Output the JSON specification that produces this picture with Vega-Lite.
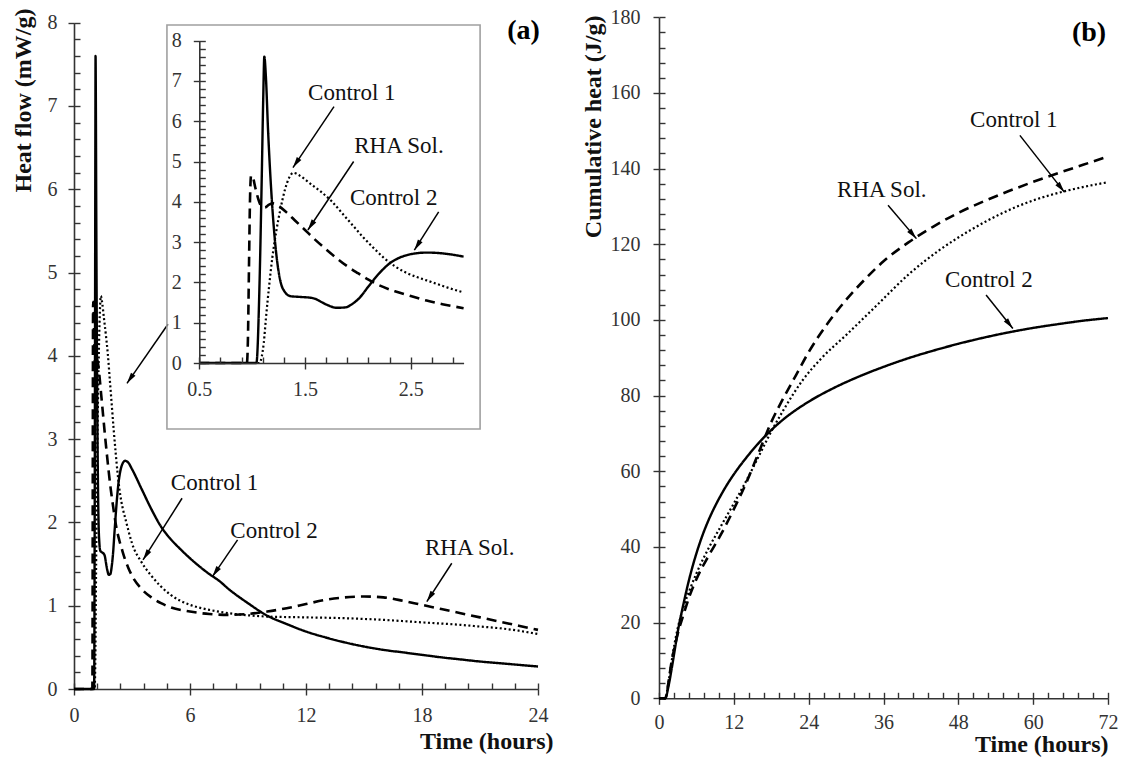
{
"$schema": "https://vega.github.io/schema/vega-lite/v6.json",
"width": 1121, "height": 758,
"autosize": {"type": "none"},
"padding": 0,
"background": "white",
"config": {
 "view": {"stroke": null},
 "font": "Liberation Serif",
 "axis": {"grid": false, "labelFont": "Liberation Serif", "labelFontSize": 20, "labelColor": "#333333", "domainColor": "#333333", "domainWidth": 1.6, "tickColor": "#333333", "tickWidth": 1.4, "titleFont": "Liberation Serif", "titleFontSize": 24, "titleFontWeight": "bold", "titleColor": "#111111", "labelFlush": false, "labelOverlap": false}
},
"datasets": {
 "heatflow": [
  {"series":"Control 2","t":0,"q":0},{"series":"Control 2","t":0.5,"q":0},{"series":"Control 2","t":1.0,"q":0},{"series":"Control 2","t":1.04,"q":0},{"series":"Control 2","t":1.07,"q":2.0},{"series":"Control 2","t":1.09,"q":4.5},{"series":"Control 2","t":1.105,"q":6.6},{"series":"Control 2","t":1.115,"q":7.6},{"series":"Control 2","t":1.13,"q":7.1},{"series":"Control 2","t":1.15,"q":5.8},{"series":"Control 2","t":1.18,"q":4.3},{"series":"Control 2","t":1.21,"q":3.2},{"series":"Control 2","t":1.24,"q":2.45},{"series":"Control 2","t":1.27,"q":2.0},{"series":"Control 2","t":1.31,"q":1.76},{"series":"Control 2","t":1.36,"q":1.66},{"series":"Control 2","t":1.45,"q":1.64},{"series":"Control 2","t":1.55,"q":1.62},{"series":"Control 2","t":1.6,"q":1.59},{"series":"Control 2","t":1.65,"q":1.52},{"series":"Control 2","t":1.72,"q":1.43},{"series":"Control 2","t":1.8,"q":1.37},{"series":"Control 2","t":1.88,"q":1.38},{"series":"Control 2","t":1.95,"q":1.47},{"series":"Control 2","t":2.02,"q":1.63},{"series":"Control 2","t":2.1,"q":1.9},{"series":"Control 2","t":2.2,"q":2.22},{"series":"Control 2","t":2.3,"q":2.47},{"series":"Control 2","t":2.4,"q":2.62},{"series":"Control 2","t":2.5,"q":2.7},{"series":"Control 2","t":2.65,"q":2.74},{"series":"Control 2","t":2.8,"q":2.72},{"series":"Control 2","t":3.0,"q":2.64},{"series":"Control 2","t":3.5,"q":2.4},{"series":"Control 2","t":4,"q":2.16},{"series":"Control 2","t":4.5,"q":1.95},{"series":"Control 2","t":5,"q":1.8},{"series":"Control 2","t":5.5,"q":1.68},{"series":"Control 2","t":6,"q":1.57},{"series":"Control 2","t":6.5,"q":1.47},{"series":"Control 2","t":7,"q":1.38},{"series":"Control 2","t":7.5,"q":1.3},{"series":"Control 2","t":8,"q":1.2},{"series":"Control 2","t":9,"q":1.03},{"series":"Control 2","t":10,"q":0.88},{"series":"Control 2","t":11,"q":0.78},{"series":"Control 2","t":12,"q":0.69},{"series":"Control 2","t":13,"q":0.62},{"series":"Control 2","t":14,"q":0.56},{"series":"Control 2","t":15,"q":0.51},{"series":"Control 2","t":16,"q":0.47},{"series":"Control 2","t":17,"q":0.44},{"series":"Control 2","t":18,"q":0.41},{"series":"Control 2","t":19,"q":0.38},{"series":"Control 2","t":20,"q":0.355},{"series":"Control 2","t":21,"q":0.33},{"series":"Control 2","t":22,"q":0.31},{"series":"Control 2","t":23,"q":0.29},{"series":"Control 2","t":24,"q":0.27},
  {"series":"Control 1","t":0,"q":0},{"series":"Control 1","t":0.5,"q":0},{"series":"Control 1","t":1.0,"q":0},{"series":"Control 1","t":1.07,"q":0},{"series":"Control 1","t":1.09,"q":0.15},{"series":"Control 1","t":1.11,"q":0.5},{"series":"Control 1","t":1.13,"q":1.1},{"series":"Control 1","t":1.16,"q":1.9},{"series":"Control 1","t":1.19,"q":2.6},{"series":"Control 1","t":1.23,"q":3.3},{"series":"Control 1","t":1.27,"q":3.85},{"series":"Control 1","t":1.31,"q":4.3},{"series":"Control 1","t":1.35,"q":4.6},{"series":"Control 1","t":1.39,"q":4.72},{"series":"Control 1","t":1.45,"q":4.65},{"series":"Control 1","t":1.55,"q":4.45},{"series":"Control 1","t":1.65,"q":4.25},{"series":"Control 1","t":1.75,"q":4.02},{"series":"Control 1","t":1.85,"q":3.72},{"series":"Control 1","t":1.95,"q":3.42},{"series":"Control 1","t":2.05,"q":3.12},{"series":"Control 1","t":2.15,"q":2.85},{"series":"Control 1","t":2.25,"q":2.6},{"series":"Control 1","t":2.35,"q":2.4},{"series":"Control 1","t":2.45,"q":2.25},{"series":"Control 1","t":2.55,"q":2.14},{"series":"Control 1","t":2.65,"q":2.05},{"series":"Control 1","t":2.75,"q":1.96},{"series":"Control 1","t":2.85,"q":1.87},{"series":"Control 1","t":3.0,"q":1.75},{"series":"Control 1","t":3.5,"q":1.52},{"series":"Control 1","t":4,"q":1.36},{"series":"Control 1","t":4.5,"q":1.23},{"series":"Control 1","t":5,"q":1.13},{"series":"Control 1","t":5.5,"q":1.06},{"series":"Control 1","t":6,"q":1.01},{"series":"Control 1","t":7,"q":0.95},{"series":"Control 1","t":8,"q":0.91},{"series":"Control 1","t":9,"q":0.885},{"series":"Control 1","t":10,"q":0.87},{"series":"Control 1","t":12,"q":0.86},{"series":"Control 1","t":14,"q":0.85},{"series":"Control 1","t":16,"q":0.83},{"series":"Control 1","t":18,"q":0.8},{"series":"Control 1","t":20,"q":0.77},{"series":"Control 1","t":21,"q":0.75},{"series":"Control 1","t":22,"q":0.73},{"series":"Control 1","t":23,"q":0.7},{"series":"Control 1","t":24,"q":0.66},
  {"series":"RHA Sol.","t":0,"q":0},{"series":"RHA Sol.","t":0.5,"q":0},{"series":"RHA Sol.","t":0.95,"q":0},{"series":"RHA Sol.","t":0.96,"q":0.6},{"series":"RHA Sol.","t":0.97,"q":2.4},{"series":"RHA Sol.","t":0.98,"q":4.1},{"series":"RHA Sol.","t":0.99,"q":4.65},{"series":"RHA Sol.","t":1.005,"q":4.62},{"series":"RHA Sol.","t":1.03,"q":4.35},{"series":"RHA Sol.","t":1.06,"q":4.05},{"series":"RHA Sol.","t":1.09,"q":3.88},{"series":"RHA Sol.","t":1.12,"q":3.86},{"series":"RHA Sol.","t":1.16,"q":3.93},{"series":"RHA Sol.","t":1.2,"q":3.96},{"series":"RHA Sol.","t":1.26,"q":3.88},{"series":"RHA Sol.","t":1.32,"q":3.75},{"series":"RHA Sol.","t":1.4,"q":3.55},{"series":"RHA Sol.","t":1.5,"q":3.3},{"series":"RHA Sol.","t":1.6,"q":3.05},{"series":"RHA Sol.","t":1.7,"q":2.82},{"series":"RHA Sol.","t":1.8,"q":2.6},{"series":"RHA Sol.","t":1.9,"q":2.4},{"series":"RHA Sol.","t":2.0,"q":2.23},{"series":"RHA Sol.","t":2.1,"q":2.07},{"series":"RHA Sol.","t":2.2,"q":1.93},{"series":"RHA Sol.","t":2.35,"q":1.78},{"series":"RHA Sol.","t":2.5,"q":1.66},{"series":"RHA Sol.","t":2.65,"q":1.55},{"series":"RHA Sol.","t":2.8,"q":1.46},{"series":"RHA Sol.","t":3.0,"q":1.36},{"series":"RHA Sol.","t":3.5,"q":1.2},{"series":"RHA Sol.","t":4,"q":1.1},{"series":"RHA Sol.","t":4.5,"q":1.03},{"series":"RHA Sol.","t":5,"q":0.98},{"series":"RHA Sol.","t":6,"q":0.93},{"series":"RHA Sol.","t":7,"q":0.9},{"series":"RHA Sol.","t":8,"q":0.89},{"series":"RHA Sol.","t":9,"q":0.9},{"series":"RHA Sol.","t":10,"q":0.93},{"series":"RHA Sol.","t":11,"q":0.97},{"series":"RHA Sol.","t":12,"q":1.02},{"series":"RHA Sol.","t":13,"q":1.07},{"series":"RHA Sol.","t":14,"q":1.1},{"series":"RHA Sol.","t":15,"q":1.11},{"series":"RHA Sol.","t":16,"q":1.1},{"series":"RHA Sol.","t":17,"q":1.06},{"series":"RHA Sol.","t":18,"q":1.01},{"series":"RHA Sol.","t":19,"q":0.96},{"series":"RHA Sol.","t":20,"q":0.91},{"series":"RHA Sol.","t":21,"q":0.86},{"series":"RHA Sol.","t":22,"q":0.81},{"series":"RHA Sol.","t":23,"q":0.76},{"series":"RHA Sol.","t":24,"q":0.71}
 ],
 "cumulative": [
  {"series":"Control 2","t":0,"q":0},{"series":"Control 2","t":1,"q":0},{"series":"Control 2","t":1.5,"q":3},{"series":"Control 2","t":2,"q":7.5},{"series":"Control 2","t":2.5,"q":12.5},{"series":"Control 2","t":3,"q":17.5},{"series":"Control 2","t":4,"q":25.5},{"series":"Control 2","t":5,"q":32.5},{"series":"Control 2","t":6,"q":38.3},{"series":"Control 2","t":7,"q":43.2},{"series":"Control 2","t":8,"q":47.3},{"series":"Control 2","t":9,"q":50.8},{"series":"Control 2","t":10,"q":53.9},{"series":"Control 2","t":11,"q":56.7},{"series":"Control 2","t":12,"q":59.2},{"series":"Control 2","t":14,"q":63.6},{"series":"Control 2","t":16,"q":67.5},{"series":"Control 2","t":18,"q":70.9},{"series":"Control 2","t":20,"q":73.8},{"series":"Control 2","t":24,"q":78.4},{"series":"Control 2","t":28,"q":82},{"series":"Control 2","t":32,"q":85},{"series":"Control 2","t":36,"q":87.6},{"series":"Control 2","t":40,"q":89.9},{"series":"Control 2","t":44,"q":91.9},{"series":"Control 2","t":48,"q":93.7},{"series":"Control 2","t":52,"q":95.3},{"series":"Control 2","t":56,"q":96.7},{"series":"Control 2","t":60,"q":97.9},{"series":"Control 2","t":64,"q":98.9},{"series":"Control 2","t":68,"q":99.8},{"series":"Control 2","t":72,"q":100.5},
  {"series":"Control 1","t":0,"q":0},{"series":"Control 1","t":1,"q":0},{"series":"Control 1","t":1.5,"q":4},{"series":"Control 1","t":2,"q":9.5},{"series":"Control 1","t":2.5,"q":14.5},{"series":"Control 1","t":3,"q":18.5},{"series":"Control 1","t":4,"q":24.5},{"series":"Control 1","t":5,"q":29},{"series":"Control 1","t":6,"q":33},{"series":"Control 1","t":8,"q":39.8},{"series":"Control 1","t":10,"q":45.7},{"series":"Control 1","t":12,"q":51.5},{"series":"Control 1","t":14,"q":57.5},{"series":"Control 1","t":16,"q":64},{"series":"Control 1","t":18,"q":70.5},{"series":"Control 1","t":20,"q":76.3},{"series":"Control 1","t":23,"q":84},{"series":"Control 1","t":26,"q":89.8},{"series":"Control 1","t":30,"q":96},{"series":"Control 1","t":35,"q":104},{"series":"Control 1","t":40,"q":112},{"series":"Control 1","t":45,"q":118.5},{"series":"Control 1","t":50,"q":123.8},{"series":"Control 1","t":55,"q":128.2},{"series":"Control 1","t":60,"q":131.6},{"series":"Control 1","t":65,"q":134},{"series":"Control 1","t":70,"q":135.8},{"series":"Control 1","t":72,"q":136.4},
  {"series":"RHA Sol.","t":0,"q":0},{"series":"RHA Sol.","t":1,"q":0},{"series":"RHA Sol.","t":1.5,"q":4},{"series":"RHA Sol.","t":2,"q":9.5},{"series":"RHA Sol.","t":2.5,"q":13.5},{"series":"RHA Sol.","t":3,"q":17},{"series":"RHA Sol.","t":4,"q":22.5},{"series":"RHA Sol.","t":5,"q":27.5},{"series":"RHA Sol.","t":6,"q":31.5},{"series":"RHA Sol.","t":8,"q":37.8},{"series":"RHA Sol.","t":10,"q":43.5},{"series":"RHA Sol.","t":12,"q":50},{"series":"RHA Sol.","t":14,"q":57},{"series":"RHA Sol.","t":16,"q":65},{"series":"RHA Sol.","t":18,"q":73},{"series":"RHA Sol.","t":20,"q":79.5},{"series":"RHA Sol.","t":22,"q":85.5},{"series":"RHA Sol.","t":24,"q":91.5},{"series":"RHA Sol.","t":27,"q":99},{"series":"RHA Sol.","t":30,"q":105.3},{"series":"RHA Sol.","t":33,"q":110.7},{"series":"RHA Sol.","t":36,"q":115.5},{"series":"RHA Sol.","t":40,"q":120.5},{"series":"RHA Sol.","t":44,"q":124.7},{"series":"RHA Sol.","t":48,"q":128.3},{"series":"RHA Sol.","t":52,"q":131.3},{"series":"RHA Sol.","t":56,"q":134},{"series":"RHA Sol.","t":60,"q":136.5},{"series":"RHA Sol.","t":64,"q":138.8},{"series":"RHA Sol.","t":68,"q":141},{"series":"RHA Sol.","t":72,"q":143.2}
 ],
 "labelsA": [{"label":"Control 1","x":7.27,"y":2.39},{"label":"Control 2","x":10.35,"y":1.81},{"label":"RHA Sol.","x":20.47,"y":1.61}],
 "arrowsA": [{"x":4.86,"y":4.38,"x2":2.74,"y2":3.67},{"x":5.59,"y":2.29,"x2":3.57,"y2":1.55},{"x":8.46,"y":1.79,"x2":7.16,"y2":1.35},{"x":19.54,"y":1.51,"x2":18.25,"y2":1.05}],
 "labelsI": [{"label":"Control 1","x":1.943,"y":6.53},{"label":"RHA Sol.","x":2.389,"y":5.21},{"label":"Control 2","x":2.339,"y":3.92}],
 "arrowsI": [{"x":1.774,"y":6.36,"x2":1.386,"y2":4.85},{"x":1.96,"y":5.0,"x2":1.527,"y2":3.3},{"x":2.764,"y":3.75,"x2":2.534,"y2":2.8}],
 "labelsB": [{"label":"Control 1","x":56.9,"y":151.0},{"label":"RHA Sol.","x":35.73,"y":132.5},{"label":"Control 2","x":52.9,"y":108.7}],
 "arrowsB": [{"x":57.87,"y":148.8,"x2":65.0,"y2":133.8},{"x":36.73,"y":130.3,"x2":41.28,"y2":121.5},{"x":52.45,"y":106.6,"x2":56.74,"y2":97.75}]
},
"layer": [
 {
  "layer": [
   {
    "data": {"name": "heatflow"},
    "mark": {"type": "line", "interpolate": "monotone", "color": "black", "strokeCap": "butt"},
    "encoding": {
     "x": {"field": "t", "type": "quantitative", "scale": {"domain": [0, 24], "range": [74, 538], "nice": false, "zero": false},
       "axis": {"orient": "bottom", "offset": -69, "values": [0, 6, 12, 18, 24], "tickSize": 6, "labelPadding": 10, "title": "Time (hours)", "titleX": 553, "titleY": 59, "titleAlign": "right", "titleBaseline": "alphabetic", "titleAngle": 0}},
     "y": {"field": "q", "type": "quantitative", "scale": {"domain": [0, 8], "range": [689, 22.7], "nice": false, "zero": false},
       "axis": {"orient": "left", "offset": -74, "values": [0, 1, 2, 3, 4, 5, 6, 7, 8], "tickSize": 6, "labelPadding": 11, "title": "Heat flow (mW/g)", "titleX": -51, "titleY": 8, "titleAngle": -90, "titleAlign": "right", "titleBaseline": "middle"}},
     "strokeDash": {"field": "series", "type": "nominal", "scale": {"domain": ["Control 1", "Control 2", "RHA Sol."], "range": [[2, 2.5], [1, 0], [10, 6]]}, "legend": null},
     "strokeWidth": {"field": "series", "type": "nominal", "scale": {"domain": ["Control 1", "Control 2", "RHA Sol."], "range": [2.2, 2.6, 2.6]}, "legend": null}
    }
   },
   {
    "data": {"name": "labelsA"},
    "mark": {"type": "text", "font": "Liberation Serif", "fontSize": 23, "align": "center", "baseline": "alphabetic", "color": "#111111"},
    "encoding": {
     "x": {"field": "x", "type": "quantitative", "axis": {"orient": "bottom", "offset": -75, "values": [0, 1.2, 2.4, 3.6, 4.8, 6, 7.2, 8.4, 9.6, 10.8, 12, 13.2, 14.4, 15.6, 16.8, 18, 19.2, 20.4, 21.6, 22.8, 24], "tickSize": 6, "labels": false, "domain": false, "title": null}},
     "y": {"field": "y", "type": "quantitative", "axis": {"orient": "left", "offset": -80, "values": [0, 0.2, 0.4, 0.6, 0.8, 1, 1.2, 1.4, 1.6, 1.8, 2, 2.2, 2.4, 2.6, 2.8, 3, 3.2, 3.4, 3.6, 3.8, 4, 4.2, 4.4, 4.6, 4.8, 5, 5.2, 5.4, 5.6, 5.8, 6, 6.2, 6.4, 6.6, 6.8, 7, 7.2, 7.4, 7.6, 7.8, 8], "tickSize": 6, "labels": false, "domain": false, "title": null}},
     "text": {"field": "label"}
    }
   },
   {
    "data": {"name": "arrowsA"},
    "mark": {"type": "rule", "color": "black", "strokeWidth": 1.5},
    "encoding": {
     "x": {"field": "x", "type": "quantitative", "axis": null},
     "y": {"field": "y", "type": "quantitative", "axis": null},
     "x2": {"field": "x2"},
     "y2": {"field": "y2"}
    }
   },
   {
    "data": {"name": "arrowsA"},
    "transform": [{"calculate": "atan2((datum.x2 - datum.x) * 19.33, (datum.y2 - datum.y) * 83.29) * 180 / PI", "as": "ang"}],
    "mark": {"type": "point", "shape": "M0,0L0.5,2L-0.5,2Z", "filled": true, "size": 121, "color": "black", "opacity": 1, "strokeWidth": 0},
    "encoding": {
     "x": {"field": "x2", "type": "quantitative", "axis": null},
     "y": {"field": "y2", "type": "quantitative", "axis": null},
     "angle": {"field": "ang", "type": "quantitative", "scale": null}
    }
   },
   {
    "data": {"values": [{"tag": "(a)", "x": 24.1, "y": 7.81}]},
    "mark": {"type": "text", "font": "Liberation Serif", "fontSize": 28, "fontWeight": "bold", "align": "right", "baseline": "alphabetic", "color": "black"},
    "encoding": {
     "x": {"field": "x", "type": "quantitative", "axis": null},
     "y": {"field": "y", "type": "quantitative", "axis": null},
     "text": {"field": "tag"}
    }
   }
  ],
  "resolve": {"scale": {"x": "shared", "y": "shared"}, "axis": {"x": "independent", "y": "independent"}}
 },
 {
  "layer": [
   {
    "data": {"values": [{}]},
    "mark": {"type": "rect", "filled": false, "stroke": "#a0a0a0", "strokeWidth": 1.6},
    "encoding": {
     "x": {"datum": 0.194, "type": "quantitative", "scale": {"domain": [0.5, 3], "range": [199.3, 463.6], "nice": false, "zero": false}, "axis": null},
     "x2": {"datum": 3.156},
     "y": {"datum": -1.638, "type": "quantitative", "scale": {"domain": [0, 8], "range": [363, 40.6], "nice": false, "zero": false}, "axis": null},
     "y2": {"datum": 8.387}
    }
   },
   {
    "data": {"name": "heatflow"},
    "transform": [{"filter": "datum.t >= 0.5 && datum.t <= 3"}],
    "mark": {"type": "line", "interpolate": "monotone", "color": "black", "strokeCap": "butt"},
    "encoding": {
     "x": {"field": "t", "type": "quantitative",
       "axis": {"orient": "bottom", "offset": -395, "values": [0.5, 1.5, 2.5], "format": ".1f", "tickSize": 6, "labelPadding": 10, "title": null, "zindex": 1}},
     "y": {"field": "q", "type": "quantitative",
       "axis": {"orient": "left", "offset": -199.3, "values": [0, 1, 2, 3, 4, 5, 6, 7, 8], "format": "d", "tickSize": 6, "labelPadding": 12, "title": null, "zindex": 1}},
     "strokeDash": {"field": "series", "type": "nominal", "scale": {"domain": ["Control 1", "Control 2", "RHA Sol."], "range": [[2, 2.5], [1, 0], [10, 6]]}, "legend": null},
     "strokeWidth": {"field": "series", "type": "nominal", "scale": {"domain": ["Control 1", "Control 2", "RHA Sol."], "range": [2.2, 2.6, 2.6]}, "legend": null}
    }
   },
   {
    "data": {"name": "labelsI"},
    "mark": {"type": "text", "font": "Liberation Serif", "fontSize": 23, "align": "center", "baseline": "alphabetic", "color": "#111111"},
    "encoding": {
     "x": {"field": "x", "type": "quantitative", "axis": {"orient": "bottom", "offset": -401, "values": [0.5, 0.7, 0.9, 1.1, 1.3, 1.5, 1.7, 1.9, 2.1, 2.3, 2.5, 2.7, 2.9], "tickSize": 6, "labels": false, "domain": false, "title": null, "zindex": 1}},
     "y": {"field": "y", "type": "quantitative", "axis": {"orient": "left", "offset": -205.3, "values": [0, 0.2, 0.4, 0.6, 0.8, 1, 1.2, 1.4, 1.6, 1.8, 2, 2.2, 2.4, 2.6, 2.8, 3, 3.2, 3.4, 3.6, 3.8, 4, 4.2, 4.4, 4.6, 4.8, 5, 5.2, 5.4, 5.6, 5.8, 6, 6.2, 6.4, 6.6, 6.8, 7, 7.2, 7.4, 7.6, 7.8, 8], "tickSize": 6, "labels": false, "domain": false, "title": null, "zindex": 1}},
     "text": {"field": "label"}
    }
   },
   {
    "data": {"name": "arrowsI"},
    "mark": {"type": "rule", "color": "black", "strokeWidth": 1.5},
    "encoding": {
     "x": {"field": "x", "type": "quantitative", "axis": null},
     "y": {"field": "y", "type": "quantitative", "axis": null},
     "x2": {"field": "x2"},
     "y2": {"field": "y2"}
    }
   },
   {
    "data": {"name": "arrowsI"},
    "transform": [{"calculate": "atan2((datum.x2 - datum.x) * 105.7, (datum.y2 - datum.y) * 40.3) * 180 / PI", "as": "ang"}],
    "mark": {"type": "point", "shape": "M0,0L0.5,2L-0.5,2Z", "filled": true, "size": 121, "color": "black", "opacity": 1, "strokeWidth": 0},
    "encoding": {
     "x": {"field": "x2", "type": "quantitative", "axis": null},
     "y": {"field": "y2", "type": "quantitative", "axis": null},
     "angle": {"field": "ang", "type": "quantitative", "scale": null}
    }
   }
  ],
  "resolve": {"scale": {"x": "shared", "y": "shared"}, "axis": {"x": "independent", "y": "independent"}}
 },
 {
  "layer": [
   {
    "data": {"name": "cumulative"},
    "mark": {"type": "line", "interpolate": "monotone", "color": "black", "strokeCap": "butt"},
    "encoding": {
     "x": {"field": "t", "type": "quantitative", "scale": {"domain": [0, 72], "range": [659, 1108], "nice": false, "zero": false},
       "axis": {"orient": "bottom", "offset": -59.7, "values": [0, 12, 24, 36, 48, 60, 72], "tickSize": 6, "labelPadding": 8.5, "title": "Time (hours)", "titleX": 1108, "titleY": 53.5, "titleAlign": "right", "titleBaseline": "alphabetic", "titleAngle": 0}},
     "y": {"field": "q", "type": "quantitative", "scale": {"domain": [0, 180], "range": [698.3, 17.3], "nice": false, "zero": false},
       "axis": {"orient": "left", "offset": -659, "values": [0, 20, 40, 60, 80, 100, 120, 140, 160, 180], "tickSize": 6, "labelPadding": 13, "title": "Cumulative heat (J/g)", "titleX": -65.5, "titleY": 15, "titleAngle": -90, "titleAlign": "right", "titleBaseline": "middle"}},
     "strokeDash": {"field": "series", "type": "nominal", "scale": {"domain": ["Control 1", "Control 2", "RHA Sol."], "range": [[2, 2.5], [1, 0], [10, 6]]}, "legend": null},
     "strokeWidth": {"field": "series", "type": "nominal", "scale": {"domain": ["Control 1", "Control 2", "RHA Sol."], "range": [2.2, 2.6, 2.6]}, "legend": null}
    }
   },
   {
    "data": {"name": "labelsB"},
    "mark": {"type": "text", "font": "Liberation Serif", "fontSize": 23, "align": "center", "baseline": "alphabetic", "color": "#111111"},
    "encoding": {
     "x": {"field": "x", "type": "quantitative", "axis": {"orient": "bottom", "offset": -65.7, "values": [0, 2.4, 4.8, 7.2, 9.6, 12, 14.4, 16.8, 19.2, 21.6, 24, 26.4, 28.8, 31.2, 33.6, 36, 38.4, 40.8, 43.2, 45.6, 48, 50.4, 52.8, 55.2, 57.6, 60, 62.4, 64.8, 67.2, 69.6, 72], "tickSize": 6, "labels": false, "domain": false, "title": null}},
     "y": {"field": "y", "type": "quantitative", "axis": {"orient": "left", "offset": -665, "values": [0, 4, 8, 12, 16, 20, 24, 28, 32, 36, 40, 44, 48, 52, 56, 60, 64, 68, 72, 76, 80, 84, 88, 92, 96, 100, 104, 108, 112, 116, 120, 124, 128, 132, 136, 140, 144, 148, 152, 156, 160, 164, 168, 172, 176, 180], "tickSize": 6, "labels": false, "domain": false, "title": null}},
     "text": {"field": "label"}
    }
   },
   {
    "data": {"name": "arrowsB"},
    "mark": {"type": "rule", "color": "black", "strokeWidth": 1.5},
    "encoding": {
     "x": {"field": "x", "type": "quantitative", "axis": null},
     "y": {"field": "y", "type": "quantitative", "axis": null},
     "x2": {"field": "x2"},
     "y2": {"field": "y2"}
    }
   },
   {
    "data": {"name": "arrowsB"},
    "transform": [{"calculate": "atan2((datum.x2 - datum.x) * 6.236, (datum.y2 - datum.y) * 3.785) * 180 / PI", "as": "ang"}],
    "mark": {"type": "point", "shape": "M0,0L0.5,2L-0.5,2Z", "filled": true, "size": 121, "color": "black", "opacity": 1, "strokeWidth": 0},
    "encoding": {
     "x": {"field": "x2", "type": "quantitative", "axis": null},
     "y": {"field": "y2", "type": "quantitative", "axis": null},
     "angle": {"field": "ang", "type": "quantitative", "scale": null}
    }
   },
   {
    "data": {"values": [{"tag": "(b)", "x": 71.7, "y": 173.7}]},
    "mark": {"type": "text", "font": "Liberation Serif", "fontSize": 28, "fontWeight": "bold", "align": "right", "baseline": "alphabetic", "color": "black"},
    "encoding": {
     "x": {"field": "x", "type": "quantitative", "axis": null},
     "y": {"field": "y", "type": "quantitative", "axis": null},
     "text": {"field": "tag"}
    }
   }
  ],
  "resolve": {"scale": {"x": "shared", "y": "shared"}, "axis": {"x": "independent", "y": "independent"}}
 }
],
"resolve": {"scale": {"x": "independent", "y": "independent"}, "axis": {"x": "independent", "y": "independent"}}
}
